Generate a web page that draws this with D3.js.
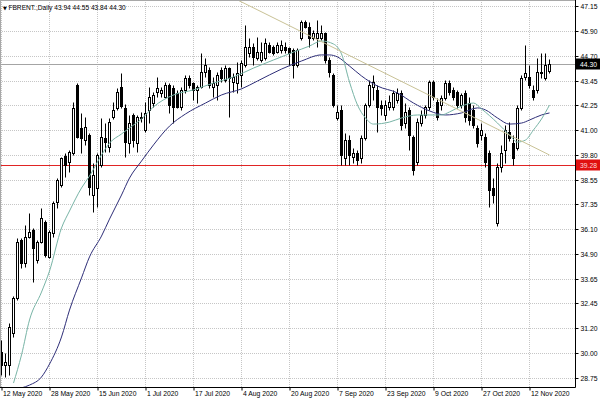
<!DOCTYPE html>
<html><head><meta charset="utf-8">
<script src="https://cdn.jsdelivr.net/npm/d3@7"></script>
<style>
body{margin:0;background:#fff}
svg{display:block}
text{font-family:"Liberation Sans",Arial,sans-serif}
</style>
</head><body>
<svg id="c" width="600" height="400"></svg>
<script>
// ---------- data ----------
const symbolTitle = "FBRENT.,Daily";
const lastBar = [43.94, 44.55, 43.84, 44.30];

const opens = [30.04,29.39,29.39,30.98,32.71,35.58,34.44,35.72,36.07,34.59,
35.48,36.47,34.74,35.92,37.46,38.30,39.73,39.43,39.88,43.24,
41.12,40.52,40.77,37.80,38.15,39.29,40.62,40.18,41.66,42.11,
43.14,42.11,40.37,41.76,40.37,41.61,41.02,42.01,42.35,42.90,
42.85,42.65,43.24,43.10,42.85,42.16,43.00,43.59,43.34,43.00,
43.14,43.89,43.99,43.14,43.24,43.99,43.49,44.08,43.39,43.34,
43.74,44.23,44.83,45.12,44.58,44.48,44.58,45.22,45.12,44.87,
44.97,45.12,45.07,44.97,44.23,45.57,46.36,46.11,45.57,45.57,
45.57,45.82,44.48,43.74,41.61,42.01,39.63,40.52,39.68,39.88,
39.63,40.62,42.26,43.14,42.99,42.26,41.76,42.16,42.16,42.50,
42.85,41.36,42.01,40.67,39.43,41.36,41.76,42.16,43.39,42.40,
42.26,42.60,43.34,42.99,42.90,42.26,42.85,42.35,42.01,41.12,
40.77,40.67,39.88,38.15,36.42,39.19,40.03,40.92,40.37,40.13,
42.11,43.64,43.64,42.99,42.99,43.84,43.59,43.94];
const highs = [30.63,29.99,31.47,32.81,35.68,35.68,36.32,36.91,36.17,35.58,
37.16,36.57,36.07,37.51,38.64,39.68,39.88,40.03,42.40,43.34,
41.86,41.66,40.87,39.38,39.88,41.61,41.36,41.61,42.40,43.10,
43.84,42.30,41.76,41.86,41.76,41.91,42.40,43.14,42.90,43.64,
43.14,43.39,43.34,43.24,43.00,43.14,43.74,43.74,43.39,43.24,
44.83,44.58,44.13,43.64,43.89,44.13,44.23,44.13,43.84,44.38,
44.48,46.21,45.57,45.32,45.62,45.37,45.57,45.37,45.22,45.37,
45.47,45.37,45.12,45.07,45.07,46.46,46.46,46.36,45.96,46.46,
46.21,45.87,44.63,43.84,42.26,42.26,40.87,40.77,40.13,40.03,
40.77,42.35,43.49,43.74,43.24,42.50,42.50,42.75,43.00,43.10,
43.00,42.35,42.16,40.77,41.61,42.01,42.26,43.49,43.49,42.60,
42.75,43.49,43.49,43.14,42.99,42.85,42.99,42.65,42.26,41.26,
41.36,40.87,40.03,38.64,39.38,40.28,41.26,41.41,40.77,42.26,
43.74,45.22,44.23,43.24,44.58,44.83,44.83,44.55];
const lows = [28.90,28.80,28.90,30.78,32.61,34.19,34.24,35.68,33.50,34.44,
35.43,34.74,34.69,35.72,37.16,38.20,38.69,38.94,39.78,40.62,
39.88,40.28,37.80,36.96,37.21,39.19,39.93,39.93,41.56,42.01,
42.11,39.68,39.88,40.18,39.93,41.41,40.92,41.36,42.16,42.65,
42.65,42.60,41.86,41.36,42.11,42.01,42.85,43.10,42.50,42.35,
43.10,43.64,43.10,42.65,42.50,43.39,43.39,41.66,42.90,42.85,
43.14,44.13,44.63,44.23,44.48,44.38,44.48,44.83,44.73,44.83,
44.83,44.83,44.23,43.59,44.13,45.47,46.06,45.12,45.47,45.12,
45.47,44.33,43.64,42.16,41.51,39.29,39.29,39.29,39.38,39.29,
39.38,40.52,42.16,42.50,40.92,41.76,41.51,42.01,42.01,42.35,
41.02,41.12,40.03,38.79,39.29,41.22,41.61,42.01,42.50,41.51,
42.01,42.50,42.75,42.50,42.11,42.11,41.41,41.26,41.12,40.18,
40.52,39.19,37.21,37.41,36.27,38.94,39.38,40.47,39.29,40.03,
42.01,43.49,43.10,42.50,42.85,43.59,43.49,43.84];
const closes = [29.39,29.54,31.27,32.71,35.48,34.44,35.72,35.97,35.18,35.48,
36.66,34.83,35.97,37.41,38.54,39.63,39.29,39.93,42.11,40.67,
40.62,41.17,38.20,38.79,39.78,40.67,40.42,41.41,42.01,42.90,
42.20,40.42,41.36,40.52,41.66,41.66,41.86,42.65,42.75,43.10,
43.00,43.24,42.26,42.16,42.16,43.00,43.59,43.24,43.00,43.14,
43.89,44.23,43.24,43.34,43.74,43.59,44.08,43.59,43.64,43.84,
44.33,45.12,45.12,44.63,44.87,44.87,45.32,44.87,44.83,45.22,
45.22,44.97,44.83,44.23,44.97,46.36,46.11,45.57,45.82,45.82,
45.82,44.48,43.89,42.26,41.91,39.78,40.52,39.78,39.88,39.53,
40.62,42.26,43.24,43.39,42.16,42.11,42.26,42.40,42.85,42.85,
41.26,41.91,40.77,39.04,41.41,41.76,42.16,43.39,42.65,41.66,
42.60,43.34,42.90,42.65,42.26,42.75,41.66,41.51,41.26,40.37,
41.02,39.43,38.05,37.80,39.19,39.88,41.02,40.62,39.63,42.11,
43.59,43.84,43.24,42.65,43.89,43.89,44.23,44.30];

// fast moving average (teal), read as [bar index, price]
const fastMA = [[3,28.50],[5,29.89],[7,31.62],[10,33.00],[12,34.04],[15,36.17],[17,37.01],[20,38.15],
[22,38.74],[25,39.78],[27,40.37],[30,40.82],[32,41.12],[35,41.56],[38,42.16],[43,42.75],[48,43.00],
[53,43.34],[58,43.64],[63,44.08],[68,44.48],[73,44.87],[77,45.17],[80,45.42],[83,45.27],[85,44.78],
[87,43.39],[89,42.25],[91,41.61],[93,41.31],[97,41.41],[100,41.61],[104,41.76],[107,41.76],[110,41.76],
[112,41.91],[115,42.20],[118,42.35],[120,42.06],[124,41.36],[127,40.77],[129,40.42],[131,40.52],
[133,41.02],[135,41.56],[137,42.25]];
// slow moving average (navy), read as [bar index, price]
const slowMA = [[5,28.26],[7,28.40],[10,28.80],[12,29.44],[15,30.78],[17,32.11],[20,33.70],[22,34.74],
[25,35.77],[27,36.61],[30,37.80],[32,38.64],[35,39.48],[38,40.28],[42,41.21],[46,41.81],[51,42.35],
[55,42.75],[60,43.05],[64,43.44],[70,44.03],[75,44.43],[80,44.73],[82,44.73],[84,44.63],[87,44.18],
[90,43.69],[94,43.19],[99,42.85],[103,42.35],[107,41.96],[111,41.76],[115,41.86],[119,42.11],
[121,42.01],[124,41.61],[127,41.31],[130,41.36],[132,41.51],[135,41.76],[137,41.86]];
// trend line end points [bar index, price]
const trendLine = [[59,47.45],[137,39.78]];
const supportLevel = 39.28;

const priceTicks = [47.15,45.90,44.70,43.45,42.25,41.00,39.80,38.55,37.35,36.10,34.90,33.65,32.45,31.20,30.00,28.75];
const dateTickIdx = [0,12,24,36,48,60,72,84,96,108,120,132];
const dateTickLabels = ["12 May 2020","28 May 2020","15 Jun 2020","1 Jul 2020","17 Jul 2020","4 Aug 2020",
"20 Aug 2020","7 Sep 2020","23 Sep 2020","9 Oct 2020","27 Oct 2020","12 Nov 2020"];

// ---------- drawing ----------
const W = 575, H = 387;
const svg = d3.select("#c");
const x = d3.scaleLinear().domain([0, 143.5]).range([1.5, 575.5]);
const y = d3.scaleLinear().domain([28.75, 47.15]).range([378, 6]);
const sy = v => Math.round(y(v)) + 0.5;

svg.append("rect").attr("width",600).attr("height",400).attr("fill","#fff");
svg.append("defs").append("clipPath").attr("id","pc")
  .append("rect").attr("x",0).attr("y",0).attr("width",W).attr("height",H);

const plot = svg.append("g").attr("clip-path","url(#pc)");

// grid
plot.selectAll(".gy").data(priceTicks).join("line")
  .attr("x1",0).attr("x2",W).attr("y1",d=>sy(d)).attr("y2",d=>sy(d))
  .attr("stroke","#c6c6c6").attr("stroke-dasharray","1,1");
plot.selectAll(".gx").data(dateTickIdx).join("line")
  .attr("x1",d=>x(d)).attr("x2",d=>x(d)).attr("y1",0).attr("y2",H)
  .attr("stroke","#c6c6c6").attr("stroke-dasharray","1,1");

// bid line and support line
plot.append("line").attr("x1",0).attr("x2",W).attr("y1",sy(lastBar[3])).attr("y2",sy(lastBar[3]))
  .attr("stroke","#a4a4a4");
plot.append("line").attr("x1",0).attr("x2",W).attr("y1",sy(supportLevel)).attr("y2",sy(supportLevel))
  .attr("stroke","#e02424");

// candles
const bars = opens.map((o,i)=>({i,o,h:highs[i],l:lows[i],c:closes[i]}));
const cg = plot.append("g");
cg.selectAll(".w").data(bars).join("line")
  .attr("x1",d=>x(d.i)).attr("x2",d=>x(d.i))
  .attr("y1",d=>sy(d.h)).attr("y2",d=>sy(d.l))
  .attr("stroke","#000");
cg.selectAll(".b").data(bars).join("rect")
  .attr("x",d=>x(d.i)-1).attr("width",2)
  .attr("y",d=>sy(Math.max(d.o,d.c)))
  .attr("height",d=>Math.max(0, sy(Math.min(d.o,d.c)) - sy(Math.max(d.o,d.c))))
  .attr("fill",d=>d.c>=d.o?"#fff":"#000")
  .attr("stroke","#000");

// moving averages
const line = d3.line().x(d=>x(d[0])).y(d=>y(d[1])).curve(d3.curveMonotoneX);
plot.append("path").attr("d",line(slowMA)).attr("fill","none").attr("stroke","#2e2e78").attr("stroke-width",1);
plot.append("path").attr("d",line(fastMA)).attr("fill","none").attr("stroke","#78b4a6").attr("stroke-width",1);
// trend line
plot.append("line").attr("x1",x(trendLine[0][0])).attr("y1",y(trendLine[0][1]))
  .attr("x2",x(trendLine[1][0])).attr("y2",y(trendLine[1][1]))
  .attr("stroke","#c9c296").attr("stroke-width",1);

// frame
svg.append("line").attr("x1",0).attr("x2",W+0.5).attr("y1",0.5).attr("y2",0.5).attr("stroke","#a8a8a8");
svg.append("line").attr("x1",0.5).attr("x2",0.5).attr("y1",0).attr("y2",H+0.5).attr("stroke","#a8a8a8");

// right axis
const ya = svg.append("g").attr("transform",`translate(${W+0.5},0)`)
  .call(d3.axisRight(y).tickValues(priceTicks).tickSize(3).tickPadding(2).tickFormat(d3.format(".2f")));
ya.select(".domain").attr("stroke","#000").attr("d",`M0,0V${H+0.5}`);
ya.selectAll(".tick line").attr("stroke","#000");
ya.selectAll(".tick").attr("transform",d=>`translate(0,${sy(d)})`);
ya.selectAll(".tick text").attr("font-size","6.8px").attr("fill","#000")
  .attr("font-family","Liberation Sans, Arial, sans-serif").attr("dy","0.34em");

// bottom axis
const xa = svg.append("g").attr("transform",`translate(0,${H+0.5})`)
  .call(d3.axisBottom(x).tickValues(dateTickIdx).tickSize(3).tickFormat((d,i)=>dateTickLabels[i]));
xa.select(".domain").attr("stroke","#000").attr("d",`M0,0H${W+0.5}`);
xa.selectAll(".tick line").attr("stroke","#000");
xa.selectAll(".tick text").attr("font-size","6.8px").attr("fill","#000")
  .attr("font-family","Liberation Sans, Arial, sans-serif")
  .attr("text-anchor","start").attr("x",1).attr("y",4).attr("dy","0.71em");

// price labels on axis
function tag(v, bg, fg){
  const g = svg.append("g").attr("transform",`translate(${W+1},${sy(v)})`);
  g.append("rect").attr("x",0).attr("y",-6).attr("width",24).attr("height",11).attr("fill",bg);
  g.append("text").attr("x",4).attr("y",0).attr("dy","0.34em").attr("font-size","6.8px").attr("fill",fg).text(d3.format(".2f")(v));
}
tag(lastBar[3], "#000", "#fff");
tag(supportLevel, "#e01010", "#ffd8d8");

// title
const t = svg.append("text").attr("x",3).attr("y",10).attr("font-size","6.6px").attr("fill","#000");
t.append("tspan").attr("font-family","DejaVu Sans").attr("font-size","5px").text("\u25BC ");
t.append("tspan").text(symbolTitle + " " + lastBar.map(d3.format(".2f")).join(" "));
</script>
</body></html>
